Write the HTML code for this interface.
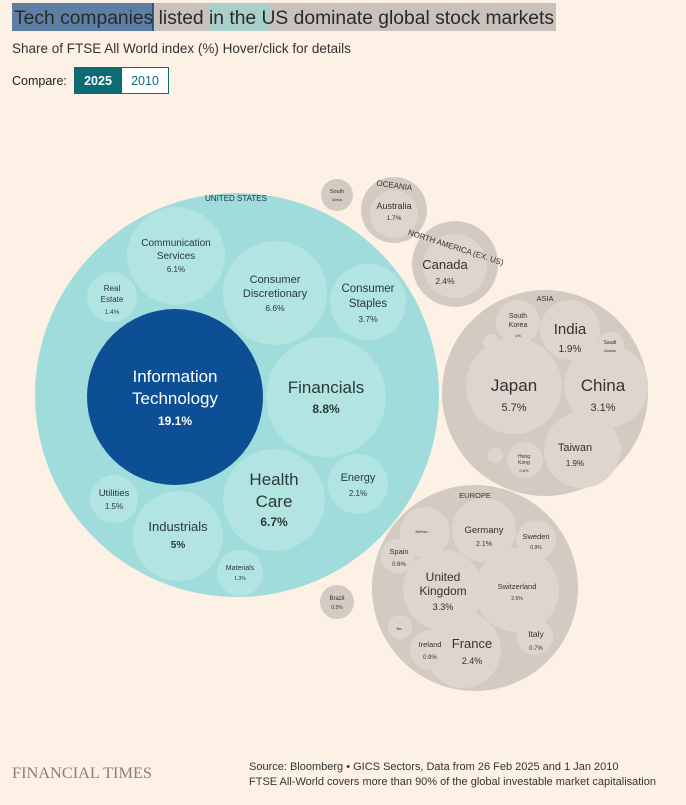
<!DOCTYPE html>
<html><head><meta charset="utf-8"><style>
body{margin:0;background:#fdf1e5;width:686px;height:800px;overflow:hidden;font-family:"Liberation Sans",sans-serif;}
svg text{font-family:"Liberation Sans",sans-serif;}
</style></head><body>
<svg width="686" height="800" xmlns="http://www.w3.org/2000/svg">
<rect width="686" height="800" fill="#fdf1e5"/>
<rect x="12" y="3" width="141" height="28" fill="#5c7fa3"/>
<rect x="153" y="3" width="56" height="28" fill="#c9c1bb"/>
<rect x="209" y="3" width="61" height="28" fill="#a9cfcb"/>
<rect x="270" y="3" width="286" height="28" fill="#c9c1bb"/>
<line x1="153" y1="3" x2="153" y2="31" stroke="#1a3f6a" stroke-width="1.5"/>
<text x="14" y="24" font-size="19" fill="#2a2a2a" textLength="540" lengthAdjust="spacingAndGlyphs">Tech companies listed in the US dominate global stock markets</text>
<text x="12" y="53" font-size="13.5" fill="#333">Share of FTSE All World index (%) Hover/click for details</text>
<text x="12" y="85" font-size="12.5" fill="#222">Compare:</text>
<rect x="74.5" y="67.5" width="94" height="26" fill="#fff" stroke="#0d6b73"/>
<rect x="75" y="68" width="47" height="25" fill="#0d6b73"/>
<text x="98" y="85" font-size="12.5" fill="#fff" text-anchor="middle" font-weight="bold">2025</text>
<text x="145" y="85" font-size="12.5" fill="#0d6b73" text-anchor="middle">2010</text>

<g text-anchor="middle">
<circle cx="237" cy="395" r="202" fill="#9fdcdb"/>
<text x="236" y="201" font-size="8" fill="#234">UNITED STATES</text>
<g fill="#b2e4e2">
<circle cx="326" cy="397" r="60"/><circle cx="274" cy="500" r="51"/><circle cx="178" cy="536" r="45"/>
<circle cx="176" cy="256" r="49"/><circle cx="275" cy="293" r="52"/><circle cx="368" cy="302" r="38"/>
<circle cx="358" cy="484" r="30"/><circle cx="114" cy="499" r="24"/><circle cx="112" cy="297" r="25"/>
<circle cx="240" cy="573" r="23"/></g>
<circle cx="175" cy="397" r="88" fill="#0d4f94"/>
<g fill="#fff"><text x="175" y="382" font-size="17">Information</text><text x="175" y="404" font-size="17">Technology</text><text x="175" y="425" font-size="12" font-weight="bold">19.1%</text></g>
<g fill="#2a3a3a">
<text x="326" y="393" font-size="17">Financials</text><text x="326" y="413" font-size="12" font-weight="bold">8.8%</text>
<text x="274" y="485" font-size="17">Health</text><text x="274" y="507" font-size="17">Care</text><text x="274" y="526" font-size="12" font-weight="bold">6.7%</text>
<text x="178" y="531" font-size="13">Industrials</text><text x="178" y="548" font-size="10" font-weight="bold">5%</text>
<text x="176" y="246" font-size="10">Communication</text><text x="176" y="259" font-size="10">Services</text><text x="176" y="272" font-size="8">6.1%</text>
<text x="275" y="283" font-size="11">Consumer</text><text x="275" y="297" font-size="11">Discretionary</text><text x="275" y="311" font-size="8.5">6.6%</text>
<text x="368" y="292" font-size="11.5">Consumer</text><text x="368" y="307" font-size="11.5">Staples</text><text x="368" y="322" font-size="8.5">3.7%</text>
<text x="358" y="481" font-size="11">Energy</text><text x="358" y="496" font-size="8">2.1%</text>
<text x="114" y="496" font-size="9.5">Utilities</text><text x="114" y="509" font-size="8">1.5%</text>
<text x="112" y="291" font-size="8">Real</text><text x="112" y="302" font-size="8">Estate</text><text x="112" y="314" font-size="6.5">1.4%</text>
<text x="240" y="570" font-size="7">Materials</text><text x="240" y="580" font-size="5">1.3%</text>
</g>

<g fill="#d3cac2"><circle cx="337" cy="195" r="16"/><circle cx="394" cy="210" r="33"/><circle cx="455" cy="264" r="43"/>
<circle cx="545" cy="393" r="103"/><circle cx="475" cy="588" r="103"/><circle cx="337" cy="602" r="17"/></g>
<g fill="#ddd5ce">
<circle cx="394" cy="214" r="24"/><circle cx="455" cy="266" r="32"/>
<circle cx="514" cy="386" r="48"/><circle cx="606" cy="386" r="42"/><circle cx="570" cy="330" r="30"/><circle cx="582" cy="450" r="38"/>
<circle cx="518" cy="322" r="22"/><circle cx="525" cy="460" r="18"/><circle cx="611" cy="345" r="13"/><circle cx="491" cy="342" r="8"/><circle cx="495" cy="455" r="8"/><circle cx="612" cy="449" r="10"/>
<circle cx="443" cy="590" r="40"/><circle cx="517" cy="590" r="42"/><circle cx="463" cy="650" r="38"/><circle cx="484" cy="530" r="32"/>
<circle cx="536" cy="540" r="20"/><circle cx="425" cy="532" r="25"/><circle cx="398" cy="556" r="17"/><circle cx="535" cy="637" r="18"/><circle cx="430" cy="650" r="20"/><circle cx="400" cy="627" r="12"/>
</g>
<g fill="#333">
<text x="337" y="193" font-size="5.5">South</text><text x="337" y="201" font-size="4">Africa</text>
<text x="394" y="188" font-size="8" transform="rotate(8 394 188)">OCEANIA</text>
<text x="394" y="209" font-size="9">Australia</text><text x="394" y="220" font-size="6.5">1.7%</text>
<text x="455" y="250" font-size="8" transform="rotate(18 455 250)">NORTH AMERICA (EX. US)</text>
<text x="445" y="269" font-size="13">Canada</text><text x="445" y="284" font-size="8.5">2.4%</text>
<text x="545" y="301" font-size="7.5">ASIA</text>
<text x="514" y="391" font-size="17">Japan</text><text x="514" y="411" font-size="11">5.7%</text>
<text x="603" y="391" font-size="17">China</text><text x="603" y="411" font-size="11">3.1%</text>
<text x="570" y="334" font-size="15">India</text><text x="570" y="352" font-size="10">1.9%</text>
<text x="575" y="451" font-size="11">Taiwan</text><text x="575" y="466" font-size="8">1.9%</text>
<text x="518" y="318" font-size="7">South</text><text x="518" y="327" font-size="7">Korea</text><text x="518" y="337" font-size="4">1%</text>
<text x="524" y="458" font-size="5">Hong</text><text x="524" y="464" font-size="5">Kong</text><text x="524" y="472" font-size="4">0.6%</text>
<text x="610" y="344" font-size="5">Saudi</text><text x="610" y="352" font-size="4">Arabia</text>
<text x="475" y="498" font-size="7.5">EUROPE</text>
<text x="443" y="581" font-size="12">United</text><text x="443" y="595" font-size="12">Kingdom</text><text x="443" y="610" font-size="9">3.3%</text>
<text x="517" y="589" font-size="7.5">Switzerland</text><text x="517" y="600" font-size="5">2.5%</text>
<text x="484" y="533" font-size="9.5">Germany</text><text x="484" y="546" font-size="7">2.1%</text>
<text x="472" y="648" font-size="13">France</text><text x="472" y="664" font-size="9">2.4%</text>
<text x="536" y="539" font-size="7.5">Sweden</text><text x="536" y="549" font-size="5">0.9%</text>
<text x="399" y="554" font-size="7.5">Spain</text><text x="399" y="566" font-size="6">0.6%</text>
<text x="536" y="637" font-size="8.5">Italy</text><text x="536" y="650" font-size="6">0.7%</text>
<text x="430" y="647" font-size="7.5">Ireland</text><text x="430" y="659" font-size="6">0.9%</text>
<text x="423" y="533" font-size="4">Nether...</text><text x="400" y="630" font-size="4">Be..</text>
<text x="337" y="600" font-size="6">Brazil</text><text x="337" y="609" font-size="5">0.5%</text>
</g>
</g>

<text x="12" y="778" font-size="15.5" fill="#8a8078" textLength="140" lengthAdjust="spacingAndGlyphs" style="font-family:'Liberation Serif',serif">FINANCIAL TIMES</text>
<text x="249" y="770" font-size="11" fill="#333">Source: Bloomberg • GICS Sectors, Data from 26 Feb 2025 and 1 Jan 2010</text>
<text x="249" y="785" font-size="11" fill="#333">FTSE All-World covers more than 90% of the global investable market capitalisation</text>
</svg>
</body></html>
